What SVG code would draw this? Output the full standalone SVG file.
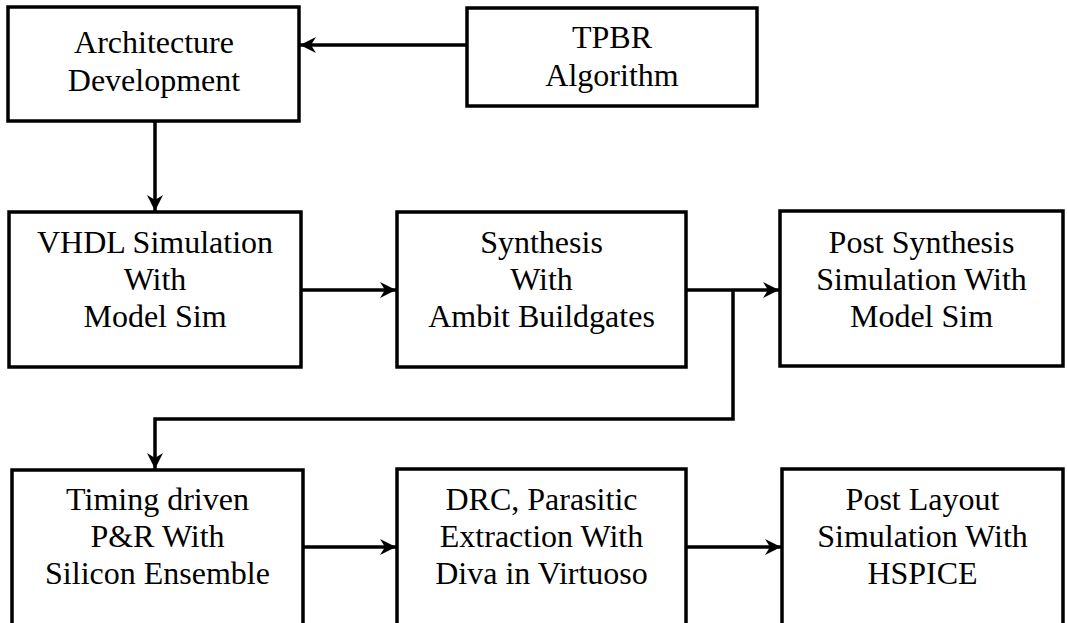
<svg xmlns="http://www.w3.org/2000/svg" width="1067" height="623" viewBox="0 0 1067 623">
  <defs>
    <marker id="arrow" markerUnits="userSpaceOnUse" markerWidth="20" markerHeight="20" viewBox="-17 -10 20 20" refX="0" refY="0" orient="auto">
      <path d="M0,0 L-16,-8 L-11,0 L-16,8 Z" fill="#000"/>
    </marker>
  </defs>
  <style>
    .box { fill: #fff; stroke: #000; stroke-width: 3.5; }
    .lbl { font-family: 'Liberation Serif', 'DejaVu Serif', serif; font-size: 32px; fill: #000; text-anchor: middle; }
    .conn { fill: none; stroke: #000; stroke-width: 3.5; }
  </style>
  <rect width="1067" height="623" fill="#fff"/>

  <g id="arch">
    <rect class="box" x="8" y="7" width="291" height="114"/>
    <text class="lbl" font-family="Liberation Serif, DejaVu Serif, serif" x="154" y="53">Architecture</text>
    <text class="lbl" font-family="Liberation Serif, DejaVu Serif, serif" x="154" y="91">Development</text>
  </g>
  <g id="tpbr">
    <rect class="box" x="467" y="8" width="290" height="98"/>
    <text class="lbl" font-family="Liberation Serif, DejaVu Serif, serif" x="612" y="48">TPBR</text>
    <text class="lbl" font-family="Liberation Serif, DejaVu Serif, serif" x="612" y="86">Algorithm</text>
  </g>
  <g id="vhdl">
    <rect class="box" x="9" y="212" width="292" height="155"/>
    <text class="lbl" font-family="Liberation Serif, DejaVu Serif, serif" x="155" y="253">VHDL Simulation</text>
    <text class="lbl" font-family="Liberation Serif, DejaVu Serif, serif" x="155" y="290">With</text>
    <text class="lbl" font-family="Liberation Serif, DejaVu Serif, serif" x="155" y="327">Model Sim</text>
  </g>
  <g id="synth">
    <rect class="box" x="397" y="212" width="289" height="155"/>
    <text class="lbl" font-family="Liberation Serif, DejaVu Serif, serif" x="541.5" y="253">Synthesis</text>
    <text class="lbl" font-family="Liberation Serif, DejaVu Serif, serif" x="541.5" y="290">With</text>
    <text class="lbl" font-family="Liberation Serif, DejaVu Serif, serif" x="541.5" y="327">Ambit Buildgates</text>
  </g>
  <g id="postsynth">
    <rect class="box" x="780" y="211" width="283" height="155"/>
    <text class="lbl" font-family="Liberation Serif, DejaVu Serif, serif" x="921.5" y="253">Post Synthesis</text>
    <text class="lbl" font-family="Liberation Serif, DejaVu Serif, serif" x="921.5" y="290">Simulation With</text>
    <text class="lbl" font-family="Liberation Serif, DejaVu Serif, serif" x="921.5" y="327">Model Sim</text>
  </g>
  <g id="timing">
    <rect class="box" x="12" y="470" width="291" height="170"/>
    <text class="lbl" font-family="Liberation Serif, DejaVu Serif, serif" x="157.5" y="510">Timing driven</text>
    <text class="lbl" font-family="Liberation Serif, DejaVu Serif, serif" x="157.5" y="547">P&amp;R With</text>
    <text class="lbl" font-family="Liberation Serif, DejaVu Serif, serif" x="157.5" y="584">Silicon Ensemble</text>
  </g>
  <g id="drc">
    <rect class="box" x="397" y="469" width="289" height="170"/>
    <text class="lbl" font-family="Liberation Serif, DejaVu Serif, serif" x="541.5" y="510">DRC, Parasitic</text>
    <text class="lbl" font-family="Liberation Serif, DejaVu Serif, serif" x="541.5" y="547">Extraction With</text>
    <text class="lbl" font-family="Liberation Serif, DejaVu Serif, serif" x="541.5" y="584">Diva in Virtuoso</text>
  </g>
  <g id="postlayout">
    <rect class="box" x="782" y="469" width="281" height="170"/>
    <text class="lbl" font-family="Liberation Serif, DejaVu Serif, serif" x="922.5" y="510">Post Layout</text>
    <text class="lbl" font-family="Liberation Serif, DejaVu Serif, serif" x="922.5" y="547">Simulation With</text>
    <text class="lbl" font-family="Liberation Serif, DejaVu Serif, serif" x="922.5" y="584">HSPICE</text>
  </g>

  <g id="connectors">
    <path class="conn" d="M467,45 L300,45" marker-end="url(#arrow)"/>
    <path class="conn" d="M155,121 L155,211" marker-end="url(#arrow)"/>
    <path class="conn" d="M301,290 L396,290" marker-end="url(#arrow)"/>
    <path class="conn" d="M686,290 L779,290" marker-end="url(#arrow)"/>
    <path class="conn" d="M733,290 L733,419 L155,419 L155,469" marker-end="url(#arrow)"/>
    <path class="conn" d="M303,547 L396,547" marker-end="url(#arrow)"/>
    <path class="conn" d="M686,547 L781,547" marker-end="url(#arrow)"/>
  </g>
</svg>
